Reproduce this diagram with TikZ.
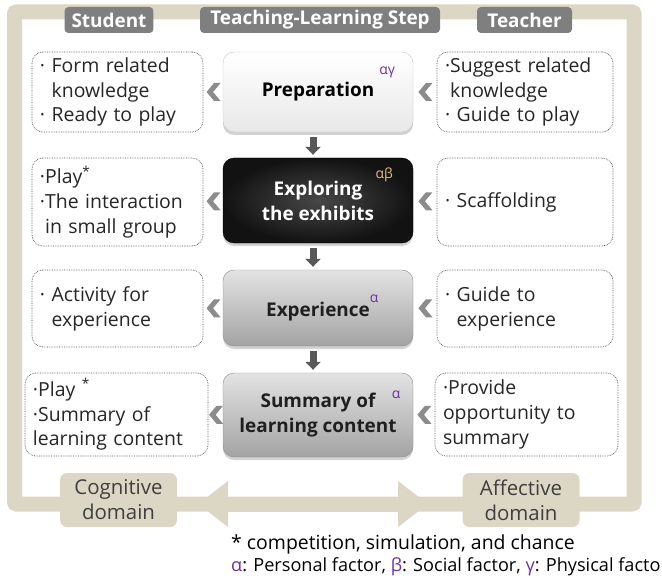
\documentclass[tikz,border=0pt]{standalone}
\usepackage{fontspec}
\setmainfont{Open Sans}
\usepackage{tikz}
\usetikzlibrary{arrows.meta,calc,shadows}
\definecolor{band}{HTML}{DCD6C4}
\definecolor{tabgray}{HTML}{7F7F7F}
\definecolor{chevgray}{HTML}{8C8C8C}
\definecolor{arrgray}{HTML}{595959}
\definecolor{txtgray}{HTML}{3F3F3F}
\definecolor{factor}{HTML}{7030A0}
\definecolor{gold}{HTML}{E4BE7C}
\definecolor{dotline}{HTML}{505050}
\newcommand{\boxfont}{\fontsize{19.5}{25}\selectfont}
\newcommand{\stepfont}{\bfseries\fontsize{19}{25}\selectfont}
\newcommand{\supfont}{\fontsize{14}{14}\selectfont}

\tikzset{
 tabbox/.style={fill=tabgray,rounded corners=4bp,text=white,font=\bfseries\fontsize{19}{22}\selectfont,
  minimum height=26bp,inner xsep=7bp,inner ysep=0bp},
 domainbox/.style={fill=band,rounded corners=7bp,text=txtgray,font=\fontsize{20.5}{25}\selectfont,align=center,
  minimum width=117bp,minimum height=54bp,inner sep=0bp},
 notebox/.style={draw=dotline,densely dotted,line width=.7bp,rounded corners=11bp,font=\boxfont,
  text=black!85,align=left,inner xsep=8bp,inner ysep=0bp},
 stepbox/.style={rounded corners=11bp,minimum width=190bp,font=\stepfont,align=center,
  drop shadow={shadow xshift=0bp,shadow yshift=-3bp,opacity=.35}},
 whitestep/.style={stepbox,top color=white,bottom color=black!9,draw=black!22},
 darkstep/.style={stepbox,inner color=black!72,outer color=black!93,draw=black,text=white},
 metalstep/.style={stepbox,top color=black!11,middle color=black!22,bottom color=black!36,draw=black!45,text=black!88},
 greek/.style={font=\supfont,text=factor,inner sep=0bp},
 downarr/.style={arrgray,line width=7bp,-{Triangle[length=8bp,width=15bp]},shorten <=5bp,shorten >=3bp},
 bandarrow/.style={band,line width=15bp,{Triangle[length=30bp,width=44bp]}-{Triangle[length=30bp,width=44bp]}},
 chev/.pic={\fill[chevgray] (-6.5,0) -- (1,-9) -- (7.5,-9) -- (0,0) -- (7.5,9) -- (1,9) -- cycle;}
}

\begin{document}
\begin{tikzpicture}[x=1bp,y=-1bp]
 \useasboundingbox (0,0) rectangle (662,578);
 % frame and domain arrow
 \draw[band,line width=15bp,rounded corners=2bp] (14.5,504) -- (14.5,12) -- (634,12) -- (634,504) -- cycle;
 \coordinate (lt) at (198,504);
 \coordinate (rt) at (428,504);
 \draw[bandarrow] (lt) -- (rt);

 % column heads
 \node[tabbox] (stu) at (109,20) {Student};
 \node[tabbox,minimum width=240bp] (tls) at (320,20) {Teaching-Learning Step};
 \node[tabbox,minimum width=95bp] (tea) at (524.5,20) {Teacher};

 % teaching-learning steps
 \node[whitestep,minimum height=80bp] (prep) at (318,92) {Preparation};
 \node[darkstep,minimum height=85bp] (expl) at (318,200.5) {Exploring\\the exhibits};
 \node[metalstep,minimum height=76bp] (expe) at (318,308) {Experience\rlap{\raisebox{.7em}{\supfont\mdseries\textcolor{factor}{α}}}};
 \node[metalstep,minimum height=84bp] (summ) at (318,415) {Summary of\\learning content};
 \node[greek] (gprep) at ($(prep.north east)+(-26,21)$) {αγ};
 \node[greek,text=gold] (gexpl) at ($(expl.north east)+(-29,17)$) {αβ};
 \node[greek] (gsumm) at ($(summ.north east)+(-17,22)$) {α};

 % student side
 \node[notebox,text width=155bp,minimum height=80bp] (s1) at (117.5,92)
  {· Form related\\\phantom{· }knowledge\\· Ready to play};
 \node[notebox,text width=155bp,minimum height=88bp] (s2) at (117.5,202)
  {·Play\textsuperscript{*}\\·The interaction\\\phantom{·}in small group};
 \node[notebox,text width=155bp,minimum height=77bp] (s3) at (117.5,308.5)
  {· Activity for\\\phantom{· }experience};
 \node[notebox,text width=167bp,minimum height=83bp] (s4) at (116.5,414.5)
  {·Play \textsuperscript{*}\\·Summary of\\learning content};

 % teacher side
 \node[notebox,text width=160bp,minimum height=80bp] (t1) at (525,92)
  {·Suggest related\\\phantom{·}knowledge\\· Guide to play};
 \node[notebox,text width=160bp,minimum height=88bp] (t2) at (525,202)
  {· Scaffolding};
 \node[notebox,text width=160bp,minimum height=77bp] (t3) at (525,308.5)
  {· Guide to\\\phantom{· }experience};
 \node[notebox,text width=167bp,minimum height=83bp] (t4) at (526.5,414.5)
  {·Provide\\opportunity to\\summary};

 % step order
 \draw[downarr] ([xshift=-5bp]prep.south) -- ([xshift=-5bp]expl.north);
 \draw[downarr] ([xshift=-5bp]expl.south) -- ([xshift=-5bp]expe.north);
 \draw[downarr] ([xshift=-5bp]expe.south) -- ([xshift=-5bp]summ.north);

 % chevrons: teacher -> step -> student
 \foreach \st/\s/\t in {prep/s1/t1,expl/s2/t2,expe/s3/t3,summ/s4/t4}{
  \pic at ($(\st.west)!.5!(\s.east)$) {chev};
  \pic at ($(\t.west)!.5!(\st.east)$) {chev};}

 % domains
 \node[domainbox] (cog) at (118.5,500) {Cognitive\\domain};
 \node[domainbox] (aff) at (521,500) {Affective\\domain};

 % footnotes
 \node[anchor=west,font=\fontsize{19.5}{25}\selectfont,inner sep=0bp] (fn1) at (231,544) {* competition, simulation, and chance};
 \node[anchor=west,font=\fontsize{18.2}{25}\selectfont,inner sep=0bp] (fn2) at (231,567)
  {\textcolor{factor}{α}: Personal factor, \textcolor{factor}{β}: Social factor, \textcolor{factor}{γ}: Physical facto};
\end{tikzpicture}
\end{document}
